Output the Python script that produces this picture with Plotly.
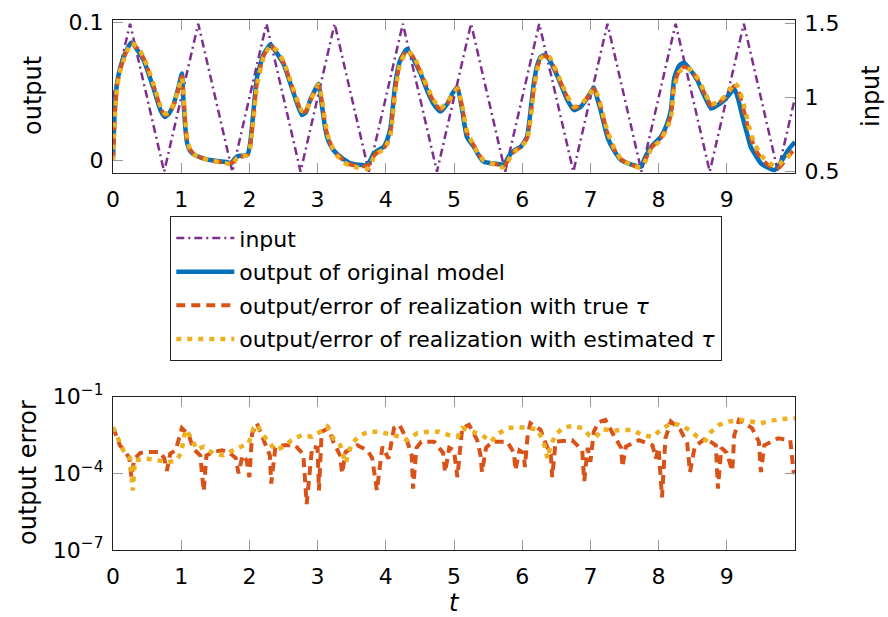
import numpy as np
import plotly.graph_objects as go

# ---------------- data ----------------
t_input = [0.0, 0.25, 0.75, 1.25, 1.75, 2.25, 2.75, 3.25, 3.75, 4.25, 4.75,
           5.25, 5.75, 6.25, 6.75, 7.25, 7.75, 8.25, 8.75, 9.25, 9.75, 10.0]
u_input = [1.0, 1.5, 0.5, 1.5, 0.5, 1.5, 0.5, 1.5, 0.5, 1.5, 0.5,
           1.5, 0.5, 1.5, 0.5, 1.5, 0.5, 1.5, 0.5, 1.5, 0.5, 1.0]

t_out = [0.00, 0.03, 0.06, 0.10, 0.18, 0.27, 0.36, 0.45, 0.59, 0.70,
         0.76, 0.82, 0.89, 0.96, 1.01, 1.03, 1.06, 1.09, 1.13, 1.20,
         1.30, 1.42, 1.55, 1.67, 1.73, 1.78, 1.82, 1.90, 1.97, 2.01,
         2.06, 2.11, 2.21, 2.31, 2.40, 2.50, 2.65, 2.77, 2.83, 2.89,
         2.96, 3.01, 3.06, 3.10, 3.14, 3.20, 3.28, 3.38, 3.48, 3.60,
         3.73, 3.78, 3.82, 3.90, 3.97, 4.02, 4.07, 4.14, 4.21, 4.31,
         4.40, 4.51, 4.62, 4.70, 4.80, 4.90, 4.98, 5.05, 5.12, 5.19,
         5.29, 5.37, 5.44, 5.55, 5.65, 5.73, 5.78, 5.83, 5.90, 5.98,
         6.07, 6.12, 6.17, 6.22, 6.27, 6.33, 6.40, 6.48, 6.56, 6.66,
         6.76, 6.86, 6.96, 7.05, 7.10, 7.15, 7.25, 7.35, 7.45, 7.55,
         7.65, 7.74, 7.80, 7.89, 8.03, 8.12, 8.18, 8.23, 8.30, 8.37,
         8.46, 8.57, 8.67, 8.77, 8.86, 8.96, 9.04, 9.11, 9.17, 9.23,
         9.30, 9.35, 9.42, 9.50, 9.60, 9.70, 9.77, 9.84, 9.92, 10.0]

y_original = [0.002, 0.040, 0.056, 0.066, 0.078, 0.0855, 0.080, 0.0726, 0.053, 0.036,
              0.0316, 0.034, 0.041, 0.053, 0.063, 0.046, 0.024, 0.012, 0.007, 0.004,
              0.002, 0.0004, -0.0005, -0.001, -0.002, 0.001, 0.003, 0.0035, 0.004, 0.012,
              0.036, 0.060, 0.077, 0.084, 0.078, 0.070, 0.0485, 0.033, 0.035, 0.0437,
              0.051, 0.0556, 0.041, 0.027, 0.017, 0.010, 0.005, 0.001, -0.002, -0.003,
              -0.0033, 0.001, 0.005, 0.008, 0.010, 0.015, 0.024, 0.056, 0.0726, 0.0808,
              0.074, 0.063, 0.049, 0.041, 0.0355, 0.041, 0.049, 0.053, 0.0365, 0.017,
              0.010, 0.003, -0.0009, -0.002, -0.0025, -0.003, 0.001, 0.005, 0.008, 0.010,
              0.017, 0.035, 0.056, 0.069, 0.075, 0.0765, 0.073, 0.065, 0.056, 0.044,
              0.0365, 0.039, 0.0457, 0.053, 0.045, 0.0365, 0.017, 0.007, 0.0004, -0.002,
              -0.0035, -0.0045, 0.002, 0.010, 0.017, 0.026, 0.0365, 0.060, 0.0685, 0.071,
              0.066, 0.058, 0.047, 0.0377, 0.040, 0.0437, 0.048, 0.052, 0.044, 0.0316,
              0.019, 0.010, 0.004, -0.002, -0.005, -0.0069, -0.003, 0.0027, 0.009, 0.0135]

y_true_tau = [0.000, 0.036, 0.054, 0.065, 0.077, 0.085, 0.081, 0.074, 0.055, 0.038,
              0.033, 0.034, 0.040, 0.052, 0.061, 0.050, 0.028, 0.014, 0.008, 0.004,
              0.002, 0.000, -0.001, -0.0015, -0.002, 0.000, 0.002, 0.003, 0.004, 0.010,
              0.032, 0.056, 0.076, 0.083, 0.079, 0.071, 0.050, 0.035, 0.036, 0.043,
              0.050, 0.055, 0.044, 0.030, 0.019, 0.011, 0.005, 0.000, -0.003, -0.004,
              -0.004, -0.001, 0.003, 0.007, 0.009, 0.013, 0.021, 0.052, 0.071, 0.080,
              0.075, 0.064, 0.051, 0.043, 0.037, 0.041, 0.048, 0.053, 0.039, 0.020,
              0.011, 0.004, 0.000, -0.002, -0.003, -0.004, -0.001, 0.004, 0.007, 0.010,
              0.016, 0.031, 0.052, 0.067, 0.074, 0.076, 0.074, 0.066, 0.057, 0.046,
              0.038, 0.040, 0.046, 0.052, 0.047, 0.039, 0.020, 0.008, 0.001, -0.002,
              -0.004, -0.005, 0.000, 0.009, 0.016, 0.024, 0.033, 0.055, 0.065, 0.068,
              0.066, 0.059, 0.049, 0.040, 0.041, 0.045, 0.050, 0.054, 0.050, 0.040,
              0.026, 0.017, 0.008, 0.002, -0.003, -0.006, -0.005, -0.001, 0.004, 0.009]

y_est_tau = [0.000, 0.034, 0.053, 0.064, 0.076, 0.085, 0.082, 0.075, 0.056, 0.039,
             0.034, 0.035, 0.041, 0.052, 0.060, 0.051, 0.030, 0.015, 0.008, 0.004,
             0.002, 0.000, -0.001, -0.002, -0.003, -0.001, 0.002, 0.003, 0.004, 0.009,
             0.030, 0.054, 0.075, 0.083, 0.080, 0.072, 0.051, 0.036, 0.036, 0.043,
             0.050, 0.055, 0.046, 0.032, 0.020, 0.011, 0.004, -0.001, -0.004, -0.005,
             -0.006, -0.003, 0.002, 0.006, 0.008, 0.012, 0.019, 0.050, 0.070, 0.079,
             0.076, 0.065, 0.052, 0.044, 0.038, 0.042, 0.048, 0.052, 0.040, 0.021,
             0.011, 0.004, 0.000, -0.002, -0.004, -0.005, -0.002, 0.003, 0.007, 0.010,
             0.015, 0.029, 0.050, 0.066, 0.074, 0.076, 0.075, 0.067, 0.058, 0.047,
             0.039, 0.041, 0.046, 0.052, 0.048, 0.040, 0.021, 0.009, 0.001, -0.002,
             -0.004, -0.005, -0.001, 0.008, 0.015, 0.023, 0.031, 0.053, 0.064, 0.067,
             0.066, 0.060, 0.050, 0.041, 0.042, 0.046, 0.051, 0.056, 0.053, 0.044,
             0.030, 0.020, 0.011, 0.004, -0.001, -0.004, -0.003, 0.001, 0.004, 0.007]

# output error, given as log10 values
t_err_true = [0.00, 0.05, 0.10, 0.18, 0.24, 0.27, 0.31, 0.40, 0.54, 0.69,
              0.75, 0.79, 0.84, 0.92, 1.01, 1.11, 1.18, 1.28, 1.33, 1.37,
              1.47, 1.60, 1.69, 1.80, 1.84, 1.90, 1.96, 2.00, 2.04, 2.11,
              2.21, 2.30, 2.32, 2.38, 2.50, 2.67, 2.79, 2.84, 2.92, 3.00,
              3.02, 3.06, 3.16, 3.23, 3.33, 3.36, 3.41, 3.58, 3.73, 3.80,
              3.87, 3.95, 4.04, 4.12, 4.20, 4.30, 4.38, 4.40, 4.45, 4.52,
              4.71, 4.84, 4.87, 4.93, 5.00, 5.05, 5.12, 5.22, 5.34, 5.39,
              5.41, 5.47, 5.56, 5.78, 5.88, 5.90, 5.96, 6.02, 6.04, 6.08,
              6.12, 6.27, 6.34, 6.42, 6.44, 6.49, 6.73, 6.88, 6.91, 6.96,
              7.00, 7.05, 7.12, 7.22, 7.34, 7.45, 7.47, 7.52, 7.71, 7.91,
              7.96, 8.00, 8.05, 8.10, 8.18, 8.32, 8.42, 8.46, 8.53, 8.69,
              8.84, 8.87, 8.92, 9.00, 9.08, 9.11, 9.18, 9.37, 9.47, 9.50,
              9.55, 9.75, 9.93, 9.98, 10.0]
log_err_true = [-2.2, -2.6, -2.9, -3.16, -3.4, -4.15, -3.45, -3.2, -3.16, -3.16,
                -3.4, -3.9, -3.22, -3.1, -2.23, -2.5, -3.05, -3.3, -4.7, -3.3,
                -3.16, -3.1, -3.16, -3.4, -4.0, -3.29, -3.5, -4.15, -2.45, -2.04,
                -2.7, -3.3, -4.4, -3.0, -2.9, -2.9, -3.25, -5.2, -2.96, -3.0,
                -4.67, -2.37, -2.23, -2.76, -3.3, -4.0, -3.16, -2.9, -3.1, -3.4,
                -4.67, -2.96, -3.42, -2.23, -2.1, -2.63, -3.3, -4.6, -3.0, -2.76,
                -2.76, -3.2, -3.95, -3.0, -3.1, -4.15, -2.23, -2.1, -2.7, -3.3,
                -3.95, -3.0, -2.76, -2.76, -3.2, -3.88, -3.1, -3.2, -3.75, -2.5,
                -2.04, -2.3, -2.8, -3.3, -4.15, -2.76, -2.7, -3.1, -4.3, -3.0,
                -3.55, -2.37, -2.0, -1.91, -2.5, -3.0, -3.75, -2.95, -2.7, -2.9,
                -3.42, -3.0, -4.94, -2.63, -1.97, -2.3, -2.83, -3.95, -2.95, -2.63,
                -2.9, -4.6, -3.0, -3.2, -3.9, -2.5, -1.91, -2.23, -2.76, -3.95,
                -2.9, -2.63, -2.7, -3.95, -4.0]

t_err_est = [0.00, 0.10, 0.15, 0.25, 0.29, 0.32, 0.45, 0.62, 0.80, 0.93,
             1.00, 1.06, 1.12, 1.23, 1.33, 1.47, 1.62, 1.82, 1.99, 2.06,
             2.11, 2.18, 2.28, 2.38, 2.50, 2.62, 2.77, 2.92, 3.04, 3.14,
             3.23, 3.33, 3.41, 3.50, 3.63, 3.75, 3.90, 4.05, 4.21, 4.31,
             4.46, 4.63, 4.78, 4.92, 5.05, 5.12, 5.27, 5.41, 5.54, 5.66,
             5.78, 5.93, 6.07, 6.22, 6.29, 6.34, 6.37, 6.42, 6.49, 6.59,
             6.73, 6.88, 6.98, 7.08, 7.18, 7.32, 7.47, 7.62, 7.76, 7.91,
             8.03, 8.18, 8.30, 8.45, 8.57, 8.69, 8.77, 8.89, 9.04, 9.21,
             9.35, 9.50, 9.65, 9.79, 10.0]
log_err_est = [-2.2, -2.76, -3.09, -3.4, -4.67, -3.5, -3.42, -3.46, -3.57, -3.49,
               -3.2, -2.3, -2.5, -3.06, -2.96, -3.22, -3.29, -3.02, -2.83, -2.23,
               -2.1, -2.43, -2.76, -3.09, -2.96, -2.7, -2.5, -2.57, -2.37, -2.17,
               -2.63, -2.89, -3.6, -2.83, -2.5, -2.37, -2.37, -2.45, -2.57, -2.7,
               -2.43, -2.37, -2.37, -2.5, -2.57, -2.23, -2.37, -2.5, -2.76, -2.43,
               -2.23, -2.19, -2.23, -2.27, -2.63, -3.02, -3.42, -2.89, -2.5, -2.23,
               -2.14, -2.23, -2.5, -2.57, -2.27, -2.33, -2.3, -2.3, -2.5, -2.57,
               -2.3, -2.04, -2.1, -2.3, -2.57, -2.7, -2.37, -2.1, -1.97, -1.91,
               -1.97, -2.04, -1.94, -1.88, -1.84]

x_ticks = [0, 1, 2, 3, 4, 5, 6, 7, 8, 9]
err_ticks = [1e-7, 1e-4, 1e-1]
err_tick_text = ["10<sup>−7</sup>", "10<sup>−4</sup>", "10<sup>−1</sup>"]

# ---------------- styling ----------------
PURPLE = "#7E2F8E"
BLUE = "#0072BD"
RED = "#D95319"
YELLOW = "#EDB120"
FONT = "DejaVu Sans"
TICKFONT = dict(family=FONT, size=22, color="black")
DASH_RED = "9px,6px"
DASH_YEL = "5px,6px"
DASH_PUR = "8px,4px,2px,4px"

fig = go.Figure()

fig.add_trace(go.Scatter(x=t_input, y=u_input, mode="lines", name="input",
                         line=dict(color=PURPLE, width=2.5, dash=DASH_PUR),
                         xaxis="x", yaxis="y", legendgroup="g1"))
fig.add_trace(go.Scatter(x=t_out, y=y_original, mode="lines",
                         name="output of original model",
                         line=dict(color=BLUE, width=4.5, shape="spline", smoothing=0.5),
                         xaxis="x", yaxis="y2", legendgroup="g2"))
fig.add_trace(go.Scatter(x=t_out, y=y_true_tau, mode="lines",
                         name="output/error of realization with true <i>τ</i>",
                         line=dict(color=RED, width=4, dash=DASH_RED, shape="spline", smoothing=0.5),
                         xaxis="x", yaxis="y2", legendgroup="g3"))
fig.add_trace(go.Scatter(x=t_out, y=y_est_tau, mode="lines",
                         name="output/error of realization with estimated <i>τ</i>",
                         line=dict(color=YELLOW, width=4.5, dash=DASH_YEL, shape="spline", smoothing=0.5),
                         xaxis="x", yaxis="y2", legendgroup="g4"))

fig.add_trace(go.Scatter(x=t_err_true, y=np.power(10.0, log_err_true), mode="lines",
                         line=dict(color=RED, width=4, dash=DASH_RED),
                         xaxis="x2", yaxis="y3", showlegend=False))
fig.add_trace(go.Scatter(x=t_err_est, y=np.power(10.0, log_err_est), mode="lines",
                         line=dict(color=YELLOW, width=4.5, dash=DASH_YEL),
                         xaxis="x2", yaxis="y3", showlegend=False))

axis_common = dict(showline=True, linecolor="#222", linewidth=1.3, ticks="inside",
                   ticklen=10, tickcolor="#9a9a9a", tickwidth=1.2, showgrid=False,
                   zeroline=False, tickfont=TICKFONT, automargin=False)

top_dom = [(550 - 173) / 530, 1.0]
bot_dom = [0.0, (550 - 396.7) / 530]

fig.update_layout(
    template="none",
    width=888, height=617,
    margin=dict(l=113, r=93, t=20, b=67, autoexpand=False),
    paper_bgcolor="white", plot_bgcolor="white",
    font=dict(family=FONT, size=22, color="black"),
    xaxis=dict(axis_common, domain=[0, 1], range=[0, 10], anchor="y",
               tickvals=x_ticks, mirror="ticks", ticklabelstandoff=6),
    yaxis=dict(axis_common, domain=top_dom, range=[0.491, 1.525], side="right",
               anchor="x", tickvals=[0.5, 1, 1.5], ticktext=["0.5", "1", "1.5"],
               ticklabelstandoff=4),
    yaxis2=dict(axis_common, overlaying="y", side="left", anchor="x",
                range=[-0.009, 0.1018], tickvals=[0, 0.1], ticktext=["0", "0.1"],
                ticklabelstandoff=4),
    xaxis2=dict(axis_common, domain=[0, 1], range=[0, 10], anchor="y3",
                tickvals=x_ticks, mirror="ticks", ticklabelstandoff=6),
    yaxis3=dict(axis_common, domain=bot_dom, type="log", range=[-7, -1], anchor="x2",
                tickvals=err_ticks, ticktext=err_tick_text, mirror="ticks",
                ticklabelstandoff=4),
    legend=dict(x=(170 - 113) / 682, y=(550 - 216) / 530, xanchor="left", yanchor="top",
                bordercolor="#222", borderwidth=1.3, bgcolor="white",
                font=dict(family=FONT, size=22, color="black"),
                itemwidth=58, traceorder="grouped", tracegroupgap=2),
    showlegend=True,
)

title_font = dict(family=FONT, size=24, color="black")
annots = [
    dict(text="output", x=(33 - 113) / 682, y=(550 - 96) / 530),
    dict(text="input", x=(871 - 113) / 682, y=(550 - 96) / 530),
    dict(text="output error", x=(28 - 113) / 682, y=(550 - 473) / 530),
]
for a in annots:
    fig.add_annotation(text=a["text"], x=a["x"], y=a["y"], xref="paper", yref="paper",
                       showarrow=False, textangle=-90, font=title_font,
                       xanchor="center", yanchor="middle")
fig.add_annotation(text="<i>t</i>", x=0.5, y=(550 - 603) / 530, xref="paper", yref="paper",
                   showarrow=False, font=title_font, xanchor="center", yanchor="middle")

fig.write_html("out.html")
